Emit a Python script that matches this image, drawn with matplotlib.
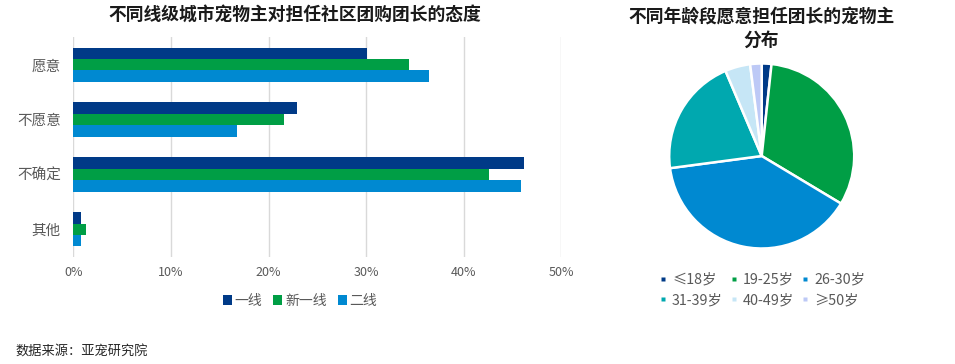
import matplotlib
matplotlib.use("Agg")
import matplotlib.pyplot as plt
import numpy as np
from matplotlib.patches import Patch
from matplotlib.lines import Line2D

plt.rcParams['font.family'] = ['Noto Sans CJK SC', 'DejaVu Sans']

# ---- data ----
bar_title = "不同线级城市宠物主对担任社区团购团长的态度"
categories = ["愿意", "不愿意", "不确定", "其他"]
series_names = ["一线", "新一线", "二线"]
tier1 = [30.1, 22.9, 46.2, 0.75]
new_tier1 = [34.4, 21.6, 42.6, 1.35]
tier2 = [36.4, 16.8, 45.9, 0.75]
x_ticks = [0, 10, 20, 30, 40, 50]
x_tick_labels = ["0%", "10%", "20%", "30%", "40%", "50%"]

pie_title = "不同年龄段愿意担任团长的宠物主\n分布"
age_groups = ["≤18岁", "19-25岁", "26-30岁", "31-39岁", "40-49岁", "≥50岁"]
age_share = [1.7, 31.9, 39.3, 20.7, 4.4, 2.0]

source_text = "数据来源：亚宠研究院"

bar_colors = ["#003A87", "#009E45", "#0089D1"]
pie_colors = ["#003A87", "#009E45", "#0089D1", "#00A8AF", "#C6E6F6", "#BDC9F6"]
label_gray = "#595959"

W, H = 955, 364
fig = plt.figure(figsize=(W / 100, H / 100), dpi=100)

# ---- bar chart ----
x0, x1 = 73.3, 561.3
y_top, y_bot = 37.3, 256.7
ax = fig.add_axes([x0 / W, 1 - y_bot / H, (x1 - x0) / W, (y_bot - y_top) / H])
n = len(categories)
ypos = np.arange(n)
bh = 0.209
for i, (vals, c, name) in enumerate(zip([tier1, new_tier1, tier2], bar_colors, series_names)):
    ax.barh(ypos + (i - 1) * bh, vals, height=bh, color=c, label=name, zorder=3)
ax.set_ylim(n - 0.5, -0.5)
ax.set_xlim(0, 50)
ax.set_xticks(x_ticks)
ax.set_xticklabels(x_tick_labels)
ax.set_yticks(ypos)
ax.set_yticklabels(categories)
ax.tick_params(axis='x', length=0, pad=7, labelsize=9, labelcolor=label_gray)
ax.tick_params(axis='y', length=0, pad=9, labelsize=10.5, labelcolor=label_gray)
for s in ax.spines.values():
    s.set_visible(False)
ax.grid(axis='x', color="#D9D9D9", linewidth=1, zorder=0)
ax.set_axisbelow(True)

fig.text(295 / W, 1 - 15 / H, bar_title, ha='center', va='center',
         fontsize=12.8, fontweight='bold', color="#1a1a1a")

handles = [Patch(facecolor=c, edgecolor='none') for c in bar_colors]
fig.legend(handles, series_names, loc='center', bbox_to_anchor=(300 / W, 1 - 301 / H),
           ncol=3, frameon=False, fontsize=10, handlelength=0.65, handleheight=0.65,
           handletextpad=0.2, columnspacing=0.8, labelcolor=label_gray)

fig.text(15 / W, 1 - 352 / H, source_text, ha='left', va='center',
         fontsize=9.5, color="#262626")

# ---- pie chart ----
cx, cy, r = 761.7, 156, 92.5
pad = 1.0
pax = fig.add_axes([(cx - r * pad) / W, 1 - (cy + r * pad) / H, 2 * r * pad / W, 2 * r * pad / H])
pax.pie(age_share, colors=pie_colors, startangle=90, counterclock=False, radius=1,
        wedgeprops=dict(edgecolor='white', linewidth=1.8))
pax.set_xlim(-pad, pad)
pax.set_ylim(-pad, pad)
pax.set_aspect('equal')
pax.axis('off')

fig.text(761.5 / W, 1 - 29 / H, pie_title, ha='center', va='center',
         fontsize=12.8, fontweight='bold', color="#1a1a1a", linespacing=1.35)

ph = [Line2D([0], [0], marker='s', linestyle='none', markersize=3.2,
             markerfacecolor=c, markeredgecolor='none') for c in pie_colors]
# legend fills column-major; reorder so entries read row by row
order = [0, 3, 1, 4, 2, 5]
fig.legend([ph[i] for i in order], [age_groups[i] for i in order], loc='center',
           bbox_to_anchor=(762 / W, 1 - 290 / H),
           ncol=3, frameon=False, fontsize=10.3, handlelength=0.6, handletextpad=0.3,
           columnspacing=0.5, labelcolor=label_gray, labelspacing=0.45)

fig.savefig("out.png", dpi=100)
